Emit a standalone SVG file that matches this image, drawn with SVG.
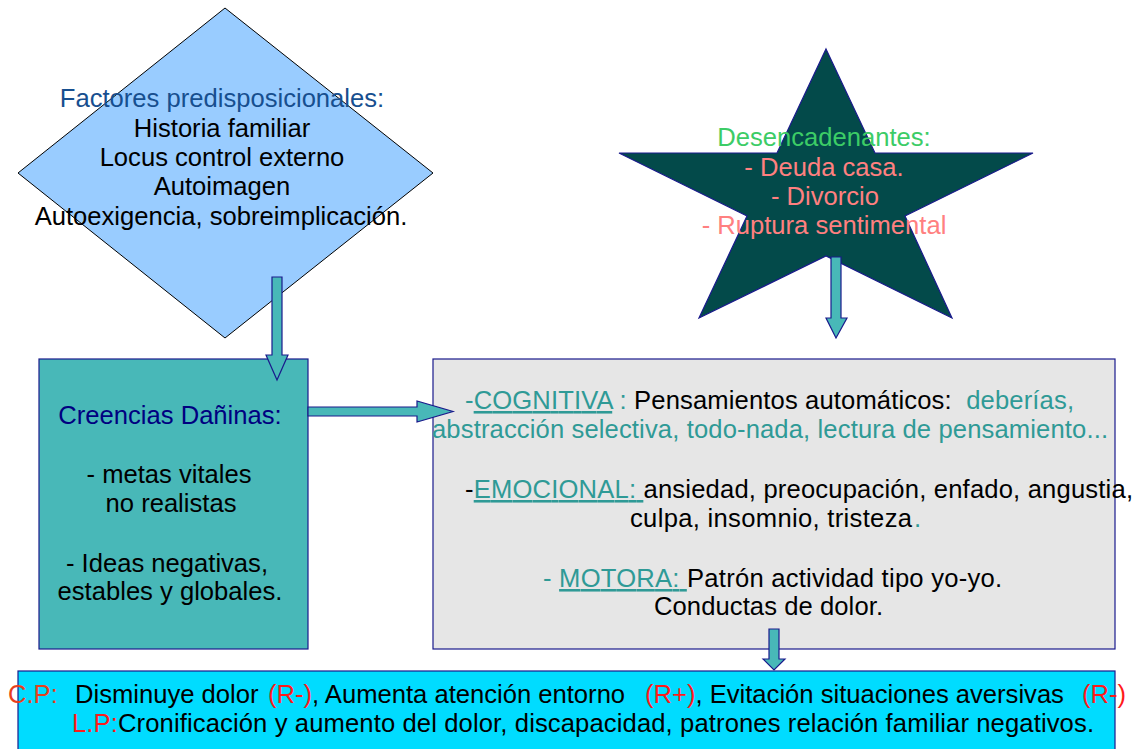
<svg xmlns="http://www.w3.org/2000/svg" width="1137" height="749" viewBox="0 0 1137 749">
<style>
text{font-family:"Liberation Sans",Arial,sans-serif;font-size:25.6px;fill:#000;white-space:pre}
.c{text-anchor:middle}
.tl{fill:#2f9a96}
.u{text-decoration:underline}
.red{fill:#ff1a1a}
.box{stroke:#1a1a8c;stroke-width:1.2}
.arr{fill:#48b8b8;stroke:#1a1a8c;stroke-width:1.2}
</style>
<rect width="1137" height="749" fill="#fff"/>
<g id="factores">
<polygon points="225,8 433,173 225,338 18,173" fill="#99ccff" stroke="#000" stroke-width="1"/>
<text class="c" x="222" y="107" style="fill:#174f8f">Factores predisposicionales:</text>
<text class="c" x="222" y="137">Historia familiar</text>
<text class="c" x="222" y="166">Locus control externo</text>
<text class="c" x="222" y="195">Autoimagen</text>
<text class="c" x="221" y="225">Autoexigencia, sobreimplicación.</text>
</g>
<g id="desencadenantes">
<polygon points="826,49 875,153 1033,153 905,216 952,318 826,256 699,318 747,216 619,153 777,153" fill="#034a4a" stroke="#1a1a8c" stroke-width="1.2"/>
<text class="c" x="824" y="146" style="fill:#3ccc66">Desencadenantes:</text>
<text class="c" x="824" y="176" style="fill:#ff8080">- Deuda casa.</text>
<text class="c" x="825" y="205" style="fill:#ff8080">- Divorcio</text>
<text class="c" x="824" y="234" style="fill:#ff8080">- Ruptura sentimental</text>
</g>
<g id="creencias">
<rect class="box" x="39" y="359" width="269" height="290" fill="#48b8b8"/>
<text class="c" x="170" y="424" style="fill:#000080">Creencias Dañinas:</text>
<text class="c" x="169" y="483">- metas vitales</text>
<text class="c" x="171" y="512">no realistas</text>
<text class="c" x="167" y="572">- Ideas negativas,</text>
<text class="c" x="170" y="600">estables y globales.</text>
</g>
<g id="respuestas">
<rect class="box" x="433" y="359" width="682" height="290" fill="#e6e6e6"/>
<text x="465" y="409" textLength="609" lengthAdjust="spacing"><tspan class="tl">-</tspan><tspan class="tl u">COGNITIVA</tspan><tspan class="tl"> : </tspan>Pensamientos automáticos:<tspan class="tl">  deberías,</tspan></text>
<text x="432" y="438" class="tl" textLength="676" lengthAdjust="spacing">abstracción selectiva, todo-nada, lectura de pensamiento...</text>
<text x="465" y="498" textLength="668" lengthAdjust="spacing">-<tspan class="tl u">EMOCIONAL: </tspan>ansiedad, preocupación, enfado, angustia,</text>
<text x="630" y="527" textLength="282" lengthAdjust="spacing">culpa, insomnio, tristeza</text>
<text x="914" y="527" class="tl">.</text>
<text x="543" y="587" textLength="459" lengthAdjust="spacing"><tspan class="tl">- </tspan><tspan class="tl u">MOTORA: </tspan>Patrón actividad tipo yo-yo.</text>
<text x="654" y="615" textLength="229" lengthAdjust="spacing">Conductas de dolor.</text>
</g>
<g id="consecuencias">
<rect class="box" x="18" y="671" width="1097" height="90" fill="#00dcff"/>
<text y="703"><tspan x="8" style="fill:#e8401c">C.P:</tspan><tspan x="75">Disminuye dolor </tspan><tspan x="268" class="red">(R-)</tspan>, Aumenta atención entorno <tspan x="645" class="red">(R+)</tspan>, Evitación situaciones aversivas <tspan x="1082" class="red">(R-)</tspan></text>
<text x="72" y="732" textLength="1022" lengthAdjust="spacing"><tspan class="red">L.P:</tspan>Cronificación y aumento del dolor, discapacidad, patrones relación familiar negativos.</text>
</g>
<g id="connectors">
<polygon class="arr" points="272,277 282,277 282,355 288,355 277,380 266,355 272,355"/>
<polygon class="arr" points="831,257 841,257 841,318 847,318 836,338 826,318 831,318"/>
<polygon class="arr" points="308,407 417,407 417,401 453,411.5 417,422 417,416 308,416"/>
<polygon class="arr" points="769,629 779,629 779,659 785,659 774,670 763,659 769,659"/>
</g>
</svg>
